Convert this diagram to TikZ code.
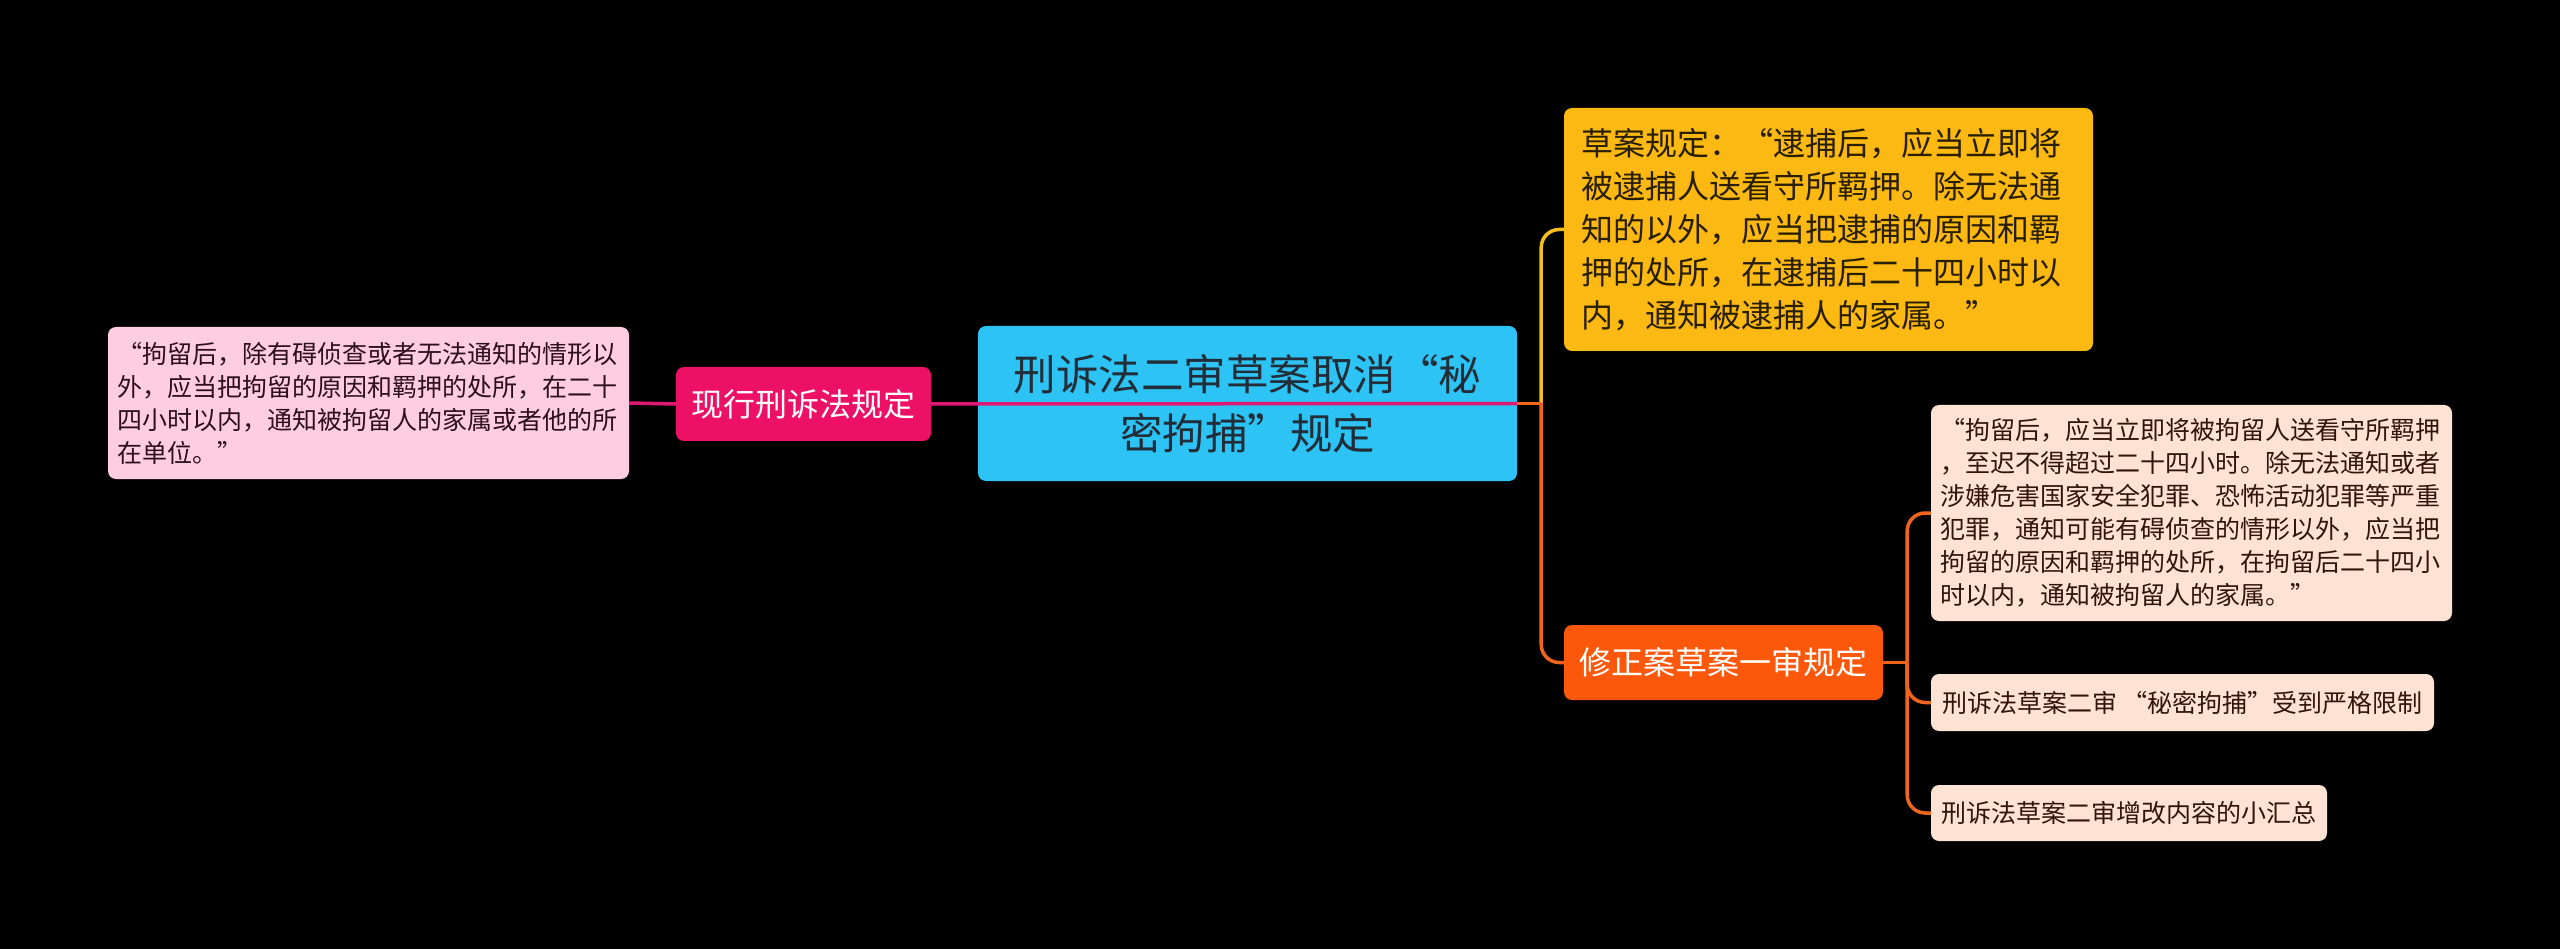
\documentclass[tikz,border=0pt]{standalone}
\usepackage{fontspec}
\setmainfont{Noto Sans CJK SC}
\newcommand\oq{\makebox[1em][r]{“}}
\newcommand\cq{\makebox[1em][l]{”}}
\definecolor{cblue}{RGB}{45,196,245}
\definecolor{ctext}{RGB}{35,45,55}
\definecolor{hpink}{RGB}{236,17,103}
\definecolor{pline}{RGB}{220,25,115}
\definecolor{lpink}{RGB}{255,205,226}
\definecolor{lptext}{RGB}{45,15,28}
\definecolor{yfill}{RGB}{252,185,19}
\definecolor{ytext}{RGB}{40,30,0}
\definecolor{yline}{RGB}{245,190,30}
\definecolor{ofill}{RGB}{252,88,12}
\definecolor{oline}{RGB}{240,100,30}
\definecolor{peach}{RGB}{254,226,212}
\definecolor{ptext}{RGB}{50,20,10}
\begin{document}
\begin{tikzpicture}[x=1pt,y=-1pt,
  box/.style={rounded corners=8pt, inner ysep=0pt, anchor=center},
  conn/.style={line width=3.5pt},
  bigtxt/.style={font=\fontsize{42.5}{59}\selectfont},
  midtxt/.style={font=\fontsize{32}{43}\selectfont},
  smalltxt/.style={font=\fontsize{25}{33}\selectfont}]
\fill[black] (0,0) rectangle (2560,949);
\useasboundingbox (0,0) rectangle (2560,949);

\node[box, fill=cblue, text=ctext, bigtxt, align=center, text width=480pt, inner xsep=29.5pt, minimum height=155pt] (root) at (1247.5,403.5) {刑诉法二审草案取消\oq 秘\\密拘捕\cq 规定};

\node[box, fill=hpink, text=white, midtxt, inner xsep=0pt, minimum width=255pt, minimum height=74pt] (cur) at (803.5,404) {现行刑诉法规定};

\node[box, fill=lpink, text=lptext, smalltxt, align=left, text width=502pt, inner xsep=9.5pt, minimum height=152pt] (old) at (368.5,403) {\oq 拘留后，除有碍侦查或者无法通知的情形以\\外，应当把拘留的原因和羁押的处所，在二十\\四小时以内，通知被拘留人的家属或者他的所\\在单位。\cq};

\node[box, fill=yfill, text=ytext, midtxt, align=left, text width=495pt, inner xsep=17pt, minimum height=243pt] (yel) at (1828.5,229.5) {草案规定：\oq 逮捕后，应当立即将\\被逮捕人送看守所羁押。除无法通\\知的以外，应当把逮捕的原因和羁\\押的处所，在逮捕后二十四小时以\\内，通知被逮捕人的家属。\cq};

\node[box, fill=ofill, text=white, midtxt, inner xsep=0pt, minimum width=319pt, minimum height=75pt] (ora) at (1723.5,662.5) {修正案草案一审规定};

\node[box, fill=peach, text=ptext, smalltxt, align=left, text width=502pt, inner xsep=9.5pt, minimum height=216pt] (p1) at (2191.5,513) {\oq 拘留后，应当立即将被拘留人送看守所羁押\\，至迟不得超过二十四小时。除无法通知或者\\涉嫌危害国家安全犯罪、恐怖活动犯罪等严重\\犯罪，通知可能有碍侦查的情形以外，应当把\\拘留的原因和羁押的处所，在拘留后二十四小\\时以内，通知被拘留人的家属。\cq};

\node[box, fill=peach, text=ptext, smalltxt, inner xsep=0pt, minimum width=503pt, minimum height=57pt] (p2) at (2182.5,702.5) {刑诉法草案二审 \oq 秘密拘捕\cq 受到严格限制};

\node[box, fill=peach, text=ptext, smalltxt, inner xsep=0pt, minimum width=396pt, minimum height=56pt] (p3) at (2129,813) {刑诉法草案二审增改内容的小汇总};

% connectors
\draw[conn, draw=pline] (root.east) -- (cur.east);
\draw[conn, draw=pline] (cur.west) -- (old.east);

\path (root.east) ++(24,0) coordinate (j1);
\draw[conn, draw=yline, rounded corners=18pt] (j1) |- (yel.west);
\draw[conn, draw=oline, rounded corners=18pt] (j1) |- (ora.west);
\draw[conn, draw=oline] (root.east) -- (j1);

\path (ora.east) ++(24,0) coordinate (j2);
\draw[conn, draw=oline] (ora.east) -- (j2);
\draw[conn, draw=oline, rounded corners=18pt] (j2) |- (p1.west);
\draw[conn, draw=oline, rounded corners=18pt] (j2) |- (p2.west);
\draw[conn, draw=oline, rounded corners=18pt] (j2) |- (p3.west);
\end{tikzpicture}
\end{document}
